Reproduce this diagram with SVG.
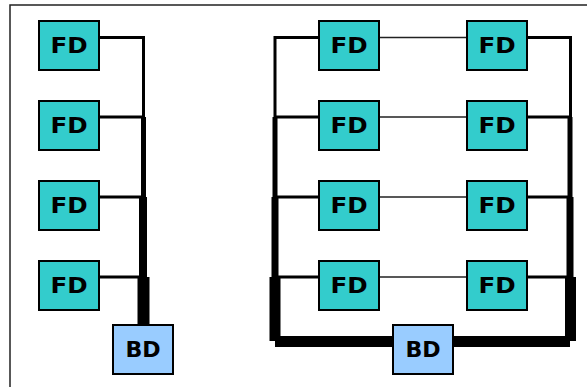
<svg xmlns="http://www.w3.org/2000/svg" width="587" height="387" viewBox="0 0 587 387">
<style>
.fd{fill:#33CCCC;stroke:#000;stroke-width:2}
.bd{fill:#99CCFF;stroke:#000;stroke-width:2}
.t{font-family:"DejaVu Sans",Verdana,sans-serif;font-weight:bold;font-size:20.5px;fill:#000;text-anchor:middle}
.c{stroke:#000;fill:none;stroke-linecap:butt}
.thin{stroke:#222;stroke-width:1.5}
</style>
<rect x="10" y="5" width="600" height="400" fill="#fff" stroke="#222" stroke-width="1.5"/>
<g id="connectors" class="c">
  <path d="M99 37.5H143.5V117" stroke-width="3"/>
  <path d="M99 117H143.5" stroke-width="3"/>
  <path d="M99 197H143.5" stroke-width="3"/>
  <path d="M99 277H143.5" stroke-width="3"/>
  <path d="M143.5 117V197" stroke-width="5"/>
  <path d="M143 197V277" stroke-width="8"/>
  <path d="M143.5 277V325" stroke-width="12"/>
  <path d="M319 37.5H275V117" stroke-width="3"/>
  <path d="M527 37.5H570.5V117" stroke-width="3"/>
  <path d="M319 117H275M527 117H570.5" stroke-width="3"/>
  <path d="M319 197H275M527 197H570.5" stroke-width="3"/>
  <path d="M319 277H275M527 277H570.5" stroke-width="3"/>
  <path d="M379 37.5H467M379 117H467M379 197H467M379 277H467" class="thin"/>
  <path d="M275 117V197M570 117V197" stroke-width="5"/>
  <path d="M275 197V277M570 197V277" stroke-width="7"/>
  <path d="M275 277V341M570.5 277V341" stroke-width="11"/>
  <path d="M275 341.5H570" stroke-width="11"/>
</g>
<g id="fd1"><rect class="fd" x="39" y="21" width="60" height="49"/><text class="t" transform="translate(69,52.5) scale(1.2,1)">FD</text></g>
<g id="fd2"><rect class="fd" x="39" y="101" width="60" height="49"/><text class="t" transform="translate(69,132.5) scale(1.2,1)">FD</text></g>
<g id="fd3"><rect class="fd" x="39" y="181" width="60" height="49"/><text class="t" transform="translate(69,212.5) scale(1.2,1)">FD</text></g>
<g id="fd4"><rect class="fd" x="39" y="261" width="60" height="49"/><text class="t" transform="translate(69,292.5) scale(1.2,1)">FD</text></g>
<g id="bd1"><rect class="bd" x="113" y="325" width="60" height="49"/><text class="t" transform="translate(143,356.5) scale(1.08,1)">BD</text></g>
<g id="fd5"><rect class="fd" x="319" y="21" width="60" height="49"/><text class="t" transform="translate(349,52.5) scale(1.2,1)">FD</text></g>
<g id="fd6"><rect class="fd" x="319" y="101" width="60" height="49"/><text class="t" transform="translate(349,132.5) scale(1.2,1)">FD</text></g>
<g id="fd7"><rect class="fd" x="319" y="181" width="60" height="49"/><text class="t" transform="translate(349,212.5) scale(1.2,1)">FD</text></g>
<g id="fd8"><rect class="fd" x="319" y="261" width="60" height="49"/><text class="t" transform="translate(349,292.5) scale(1.2,1)">FD</text></g>
<g id="fd9"><rect class="fd" x="467" y="21" width="60" height="49"/><text class="t" transform="translate(497,52.5) scale(1.2,1)">FD</text></g>
<g id="fd10"><rect class="fd" x="467" y="101" width="60" height="49"/><text class="t" transform="translate(497,132.5) scale(1.2,1)">FD</text></g>
<g id="fd11"><rect class="fd" x="467" y="181" width="60" height="49"/><text class="t" transform="translate(497,212.5) scale(1.2,1)">FD</text></g>
<g id="fd12"><rect class="fd" x="467" y="261" width="60" height="49"/><text class="t" transform="translate(497,292.5) scale(1.2,1)">FD</text></g>
<g id="bd2"><rect class="bd" x="393" y="325" width="60" height="49"/><text class="t" transform="translate(423,356.5) scale(1.08,1)">BD</text></g>
</svg>
